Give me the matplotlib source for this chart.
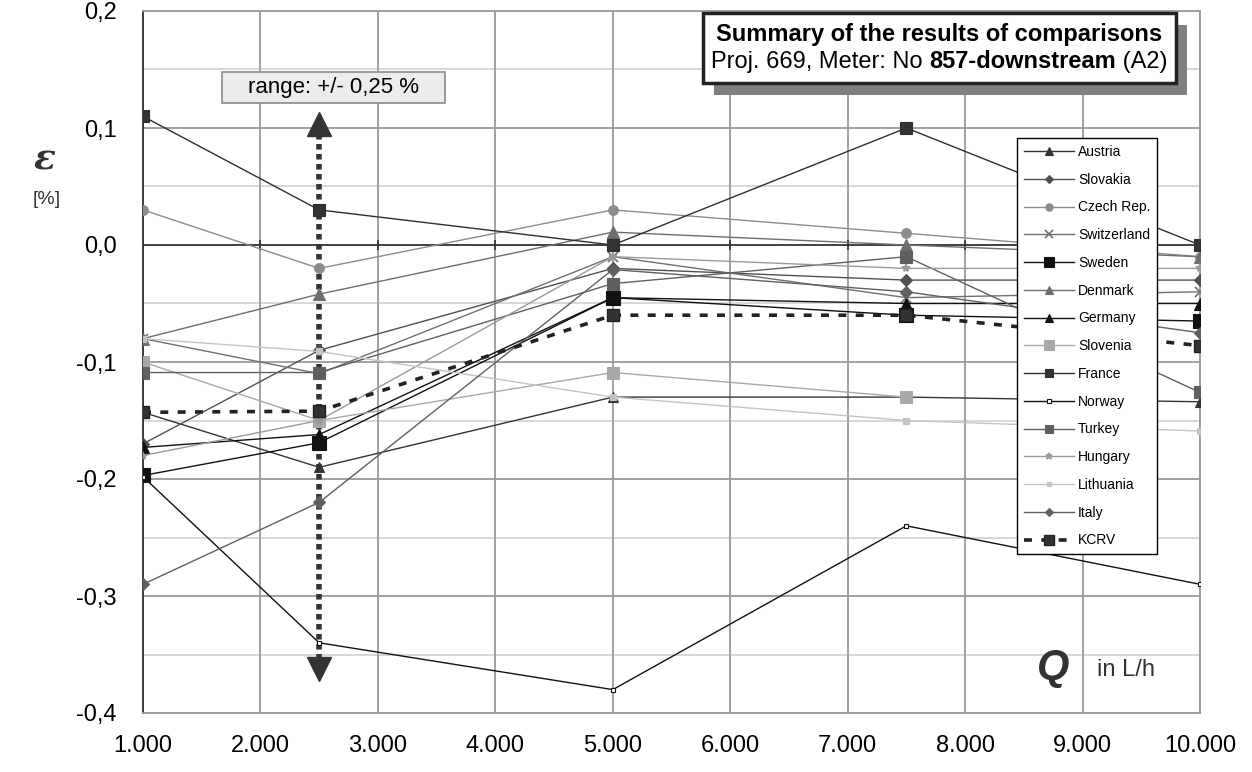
import numpy as np
import matplotlib
matplotlib.use("Agg")
import matplotlib.pyplot as plt
from matplotlib.patches import Rectangle
from matplotlib.offsetbox import TextArea, HPacker, VPacker, AnnotationBbox

plt.rcParams['font.family'] = ['Liberation Sans', 'DejaVu Sans']

# flow rates Q in L/h
flow = [1000, 2500, 5000, 7500, 10000]

# relative deviation eps in % per laboratory
austria = [-0.143, -0.19, -0.13, -0.13, -0.134]
slovakia = [-0.17, -0.09, -0.02, -0.03, -0.03]
czech = [0.03, -0.02, 0.03, 0.01, -0.01]
switzerland = [-0.08, -0.11, -0.01, -0.045, -0.04]
sweden = [-0.197, -0.169, -0.045, -0.06, -0.065]
denmark = [-0.08, -0.042, 0.011, 0.0, -0.01]
germany = [-0.173, -0.162, -0.045, -0.05, -0.05]
slovenia = [-0.10, -0.15, -0.109, -0.13, np.nan]
france = [0.11, 0.03, 0.0, 0.10, 0.0]
norway = [-0.198, -0.34, -0.38, -0.24, -0.29]
turkey = [-0.109, -0.109, -0.033, -0.01, -0.126]
hungary = [-0.18, -0.15, -0.01, -0.02, -0.02]
lithuania = [-0.08, -0.091, -0.13, -0.15, -0.159]
italy = [-0.29, -0.22, -0.021, -0.04, -0.075]
kcrv = [-0.143, -0.142, -0.06, -0.06, -0.086]

x_ticks = [1000, 2000, 3000, 4000, 5000, 6000, 7000, 8000, 9000, 10000]
y_ticks = [0.2, 0.1, 0.0, -0.1, -0.2, -0.3, -0.4]

# range marker at Q = 2500
range_x = 2500
range_top = 0.103
range_bot = -0.362

# (data, label, colour, marker, marker size, marker face)
series = [
    (austria, 'Austria', '#333333', '^', 7, '#333333'),
    (slovakia, 'Slovakia', '#505050', 'D', 6, '#505050'),
    (czech, 'Czech Rep.', '#8c8c8c', 'o', 7, '#8c8c8c'),
    (switzerland, 'Switzerland', '#707070', 'x', 7, '#707070'),
    (sweden, 'Sweden', '#111111', 's', 10, '#111111'),
    (denmark, 'Denmark', '#6e6e6e', '^', 8, '#6e6e6e'),
    (germany, 'Germany', '#111111', '^', 8, '#111111'),
    (slovenia, 'Slovenia', '#a8a8a8', 's', 9, '#a8a8a8'),
    (france, 'France', '#2e2e2e', 's', 8, '#333333'),
    (norway, 'Norway', '#111111', 's', 3.5, 'white'),
    (turkey, 'Turkey', '#5f5f5f', 's', 8, '#5f5f5f'),
    (hungary, 'Hungary', '#9a9a9a', '*', 6, '#9a9a9a'),
    (lithuania, 'Lithuania', '#c4c4c4', 's', 4, '#c4c4c4'),
    (italy, 'Italy', '#606060', 'D', 6, '#606060'),
]

fig = plt.figure(figsize=(12.52, 7.72), dpi=100)
ax = fig.add_axes([143/1252, 1-713/772, 1057/1252, 702/772])

ax.set_xlim(1000, 10000)
ax.set_ylim(-0.4, 0.2)

# grid
for v in np.arange(-0.35, 0.2, 0.1):
    ax.axhline(v, color='#d4d4d4', lw=1.3, zorder=0)
for v in y_ticks:
    ax.axhline(v, color='#9a9a9a', lw=1.3, zorder=0)
for v in x_ticks:
    ax.axvline(v, color='#9a9a9a', lw=1.3, zorder=0)
ax.axhline(0, color='#333333', lw=1.2, zorder=1)
ax.plot(x_ticks, [0]*len(x_ticks), ls='none', marker='|', ms=7, mew=1.2, color='#333333', zorder=1)

# range arrow
ax.plot([range_x, range_x], [range_top - 0.008, range_bot + 0.01], color='#333333', lw=4,
        ls=(0, (1.0, 0.8)), dash_capstyle='butt', zorder=2)
ax.plot([range_x], [range_top], marker='^', ms=17, color='#333333', zorder=2)
ax.plot([range_x], [range_bot], marker='v', ms=17, color='#333333', zorder=2)

for data, label, col, mk, ms, mfc in series:
    ax.plot(flow, data, color=col, lw=1.0, marker=mk, ms=ms, mfc=mfc, mec=col,
            mew=1.2 if mk in ('x', '*') else 0.8, label=label, zorder=3)

ax.plot(flow, kcrv, color='#222222', lw=2.6, ls=(0, (2.2, 2.6)), marker='s', ms=9,
        mfc='#333333', mec='#222222', label='KCRV', zorder=3)

ax.set_xticks(x_ticks)
ax.set_xticklabels([f"{v:,}".replace(",", ".") for v in x_ticks], fontsize=17)
ax.set_yticks(y_ticks)
ax.set_yticklabels([f"{v:.1f}".replace(".", ",").replace("-0,0", "0,0") for v in y_ticks], fontsize=17)
ax.tick_params(axis='x', length=0, pad=16)
ax.tick_params(axis='y', length=0, pad=19)

for side in ['top', 'right', 'bottom']:
    ax.spines[side].set_color('#9a9a9a')
    ax.spines[side].set_linewidth(1.3)
ax.spines['left'].set_color('#333333')
ax.spines['left'].set_linewidth(1.3)

leg = ax.legend(loc='upper left', bbox_to_anchor=((1017-143)/1057, (713-138)/702),
                fontsize=10, frameon=True, fancybox=False, edgecolor='black', framealpha=1,
                handlelength=3.6, handletextpad=0.3, labelspacing=0.99, borderpad=0.5,
                borderaxespad=0, markerscale=0.75)
leg.get_frame().set_linewidth(1.0)
leg.set_zorder(6)

# axis captions
fig.text(45/1252, 1-160/772, 'ε', fontsize=26, style='italic', fontweight='bold',
         color='#333333', ha='center', va='center', family=['DejaVu Serif'])
fig.text(47/1252, 1-200/772, '[%]', fontsize=14, color='#333333', ha='center', va='center')
fig.text(1053/1252, 1-668/772, 'Q', fontsize=30, fontweight='bold',
         style='italic', color='#333333', ha='center', va='center')
fig.text(1097/1252, 1-670/772, 'in L/h', fontsize=17, color='#333333', ha='left', va='center')

# title box with shadow
x0, y0, x1, y1 = 703, 13, 1176, 83
fig.add_artist(Rectangle(((x0+11)/1252, 1-(y1+12)/772), (x1-x0)/1252, (y1-y0)/772,
                         transform=fig.transFigure, fc='#808080', ec='none', zorder=7))
fig.add_artist(Rectangle((x0/1252, 1-y1/772), (x1-x0)/1252, (y1-y0)/772,
                         transform=fig.transFigure, fc='white', ec='#222222', lw=2.5, zorder=8))
line1 = TextArea("Summary of the results of comparisons",
                 textprops=dict(fontsize=17, fontweight='bold', color='black'))
parts = [TextArea("Proj. 669, Meter: No ", textprops=dict(fontsize=17, color='black')),
         TextArea("857-downstream", textprops=dict(fontsize=17, fontweight='bold', color='black')),
         TextArea(" (A2)", textprops=dict(fontsize=17, color='black'))]
line2 = HPacker(children=parts, align='baseline', pad=0, sep=0)
title = VPacker(children=[line1, line2], align='center', pad=0, sep=3)
ab = AnnotationBbox(title, ((x0+x1)/2/1252, 1-(y0+y1)/2/772), xycoords='figure fraction',
                    frameon=False, box_alignment=(0.5, 0.5))
ab.set_zorder(9)
fig.add_artist(ab)

# range label box
rx0, ry0, rx1, ry1 = 222, 72, 445, 103
fig.add_artist(Rectangle((rx0/1252, 1-ry1/772), (rx1-rx0)/1252, (ry1-ry0)/772,
                         transform=fig.transFigure, fc='#ececec', ec='#8a8a8a', lw=1.2, zorder=7))
fig.text((rx0+rx1)/2/1252, 1-(ry0+ry1)/2/772, 'range: +/- 0,25 %', fontsize=16,
         color='black', ha='center', va='center', zorder=8)

fig.savefig('out.png', dpi=100, facecolor='white')
